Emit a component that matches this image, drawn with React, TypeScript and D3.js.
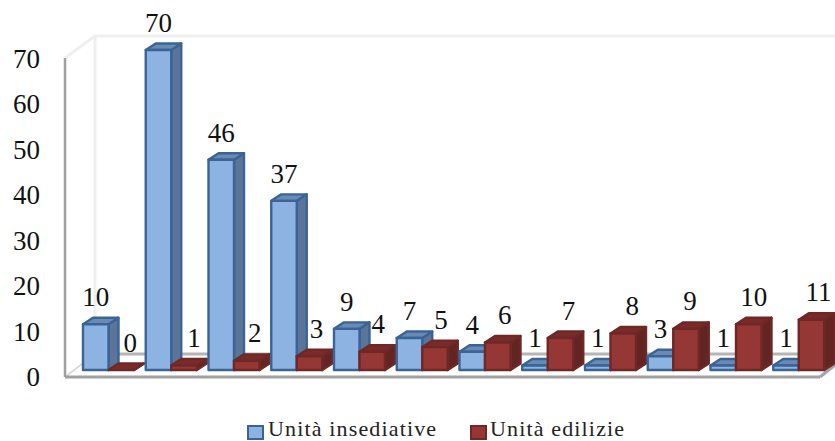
import React from "react";
import * as d3lib from "d3";

const W = 835, H = 441;
const categories = ["1","2","3","4","5","6","7","8","9","10","11","12"];
const insediative = [10,70,46,37,9,7,4,1,1,3,1,1];
const edilizie = [0,1,2,3,4,5,6,7,8,9,10,11];
const ticks = [0,10,20,30,40,50,60,70];
const seriesNames = ["Unità insediative","Unità edilizie"];
// horizontal nudges of the hand-placed red data labels
const redLabelNudge = [9,10,8,7,6,6,7,8,9,4,5,7];

const BLUE = { front:"#8db3e2", top:"#6a8ab3", side:"#5a7598", stroke:"#3a6496" };
const RED = { front:"#953735", top:"#772c2a", side:"#632523", stroke:"#6f2826" };
const DX = 10, DY = 6.5;

const axisY = d3lib.scaleLinear().domain([0,70]).range([377,59]);
const barY = d3lib.scaleLinear().domain([0,70]).range([370,50]);
const groupX = d3lib.scaleBand<string>().domain(categories).range([83,83+12*62.75-11.75]).paddingInner(0.187);
const subX = d3lib.scaleBand<number>().domain([0,1]).range([0,groupX.bandwidth()]);

function Bar({x,w,y0,y1,c}:{x:number;w:number;y0:number;y1:number;c:typeof BLUE}){
  const sw=2.4;
  const top = d3lib.line()([[x,y1],[x+w,y1],[x+w+DX,y1-DY],[x+DX,y1-DY]])+"Z";
  const side = d3lib.line()([[x+w,y1],[x+w+DX,y1-DY],[x+w+DX,y0-DY],[x+w,y0]])+"Z";
  return <g strokeLinejoin="round">
    <path d={side} fill={c.side} stroke={c.stroke} strokeWidth={sw}/>
    <path d={top} fill={c.top} stroke={c.stroke} strokeWidth={sw}/>
    <rect x={x} y={y1} width={w} height={y0-y1} fill={c.front} stroke={c.stroke} strokeWidth={sw}/>
  </g>;
}

export default function App(){
  const serif = "'Liberation Serif', serif";
  return <svg width={W} height={H} viewBox={`0 0 ${W} ${H}`} style={{position:"absolute",left:0,top:0,background:"#fff"}}>
    <path d="M65,58L95,36H835" fill="none" stroke="#efefef" strokeWidth={3}/>
    <path d="M95,36V354" fill="none" stroke="#efefef" strokeWidth={3}/>
    <path d="M65,377L95,354" fill="none" stroke="#d9d9d9" strokeWidth={2}/>
    <path d="M95,354H835" fill="none" stroke="#b5b5b5" strokeWidth={3}/>
    <path d="M820,377L835,365" fill="none" stroke="#a6a6a6" strokeWidth={3}/>
    <path d="M65,377H820" fill="none" stroke="#a0a0a0" strokeWidth={3}/>
    <path d="M65,58V377" fill="none" stroke="#a0a0a0" strokeWidth={2.5}/>
    {ticks.map(t=><text key={t} x={40} y={axisY(t)+9} textAnchor="end" fontFamily={serif} fontSize={27} fill="#111">{t}</text>)}
    {categories.map((c,i)=>{
      const gx=groupX(c)!; const w=subX.bandwidth();
      return <g key={c}>
        <Bar x={gx+subX(0)!} w={w} y0={barY(0)} y1={barY(insediative[i])} c={BLUE}/>
        <Bar x={gx+subX(1)!} w={w} y0={barY(0)} y1={barY(edilizie[i])} c={RED}/>
      </g>;
    })}
    {categories.map((c,i)=>{
      const gx=groupX(c)!; const w=subX.bandwidth();
      return <g key={c} fontFamily={serif} fontSize={27} fill="#111" textAnchor="middle">
        <text x={gx+subX(0)!+w/2} y={barY(insediative[i])-18}>{insediative[i]}</text>
        <text x={gx+subX(1)!+w/2+redLabelNudge[i]} y={barY(edilizie[i])-18.5}>{edilizie[i]}</text>
      </g>;
    })}
    <rect x={248} y={426} width={15} height={13} fill={BLUE.front} stroke={BLUE.stroke} strokeWidth={2}/>
    <text x={268} y={436} fontFamily={serif} fontSize={22} letterSpacing={1.15} fill="#222">{seriesNames[0]}</text>
    <rect x={471} y={426} width={15} height={13} fill={RED.front} stroke={RED.stroke} strokeWidth={2}/>
    <text x={490} y={436} fontFamily={serif} fontSize={22} letterSpacing={1.15} fill="#222">{seriesNames[1]}</text>
  </svg>;
}
